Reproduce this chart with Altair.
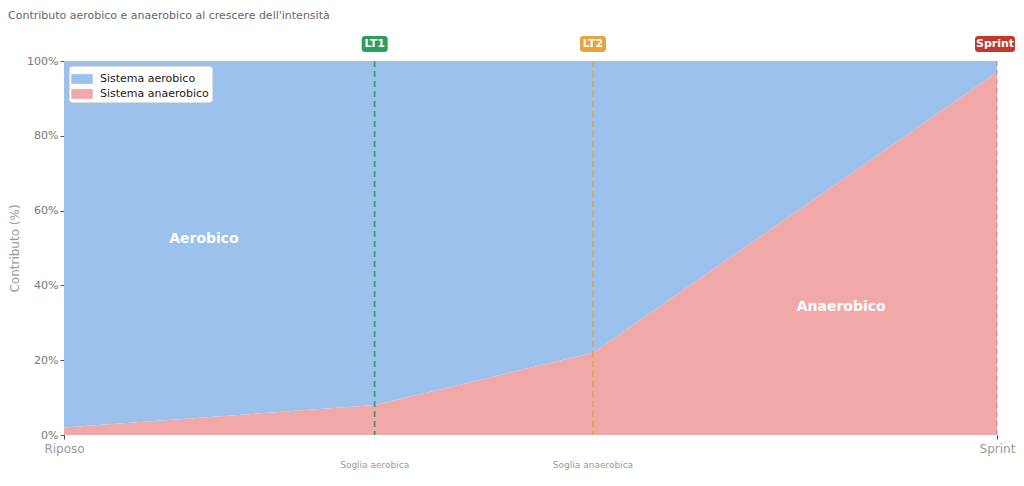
import altair as alt
import pandas as pd

# ---- data ----
intensita = [0, 33.3, 56.7, 100]
anaerobico = [2, 8, 22, 97]
aerobico = [100 - v for v in anaerobico]
sistemi = ["Sistema aerobico", "Sistema anaerobico"]
colori_sistemi = ["#9bc1ec", "#f0a8a8"]

soglie_x = [33.3, 56.7, 100]
soglie_badge = ["LT1", "LT2", "Sprint"]
soglie_nome = ["Soglia aerobica", "Soglia anaerobica", ""]
soglie_colore = ["#2e9e5b", "#e8a33d", "#c0392b"]

etichette_x = ["Riposo", "Sprint"]
etichette_zone = ["Aerobico", "Anaerobico"]
zone_x = [15, 83.3]
zone_y = [52.4, 34.2]

titolo = "Contributo aerobico e anaerobico al crescere dell'intensità"

W, H = 933, 374
FONT = "DejaVu Sans"

rows = []
for i, xv in enumerate(intensita):
    rows.append({"x": xv, "v": anaerobico[i], "sistema": sistemi[1], "ord": 0})
    rows.append({"x": xv, "v": aerobico[i], "sistema": sistemi[0], "ord": 1})
df_area = pd.DataFrame(rows)

x_scale = alt.Scale(domain=[0, 100], nice=False, zero=False)
y_scale = alt.Scale(domain=[0, 100], nice=False)

area = alt.Chart(df_area).mark_area(opacity=1).encode(
    x=alt.X("x:Q", scale=x_scale, axis=alt.Axis(
        values=[0, 100],
        labelExpr=f"datum.value == 0 ? '{etichette_x[0]}' : '{etichette_x[1]}'",
        title=None, grid=False, domain=False, tickColor="#444", tickSize=4,
        labelFlush=False, labelAlign="center",
        labelColor="#999", labelFontSize=12, labelPadding=4, labelFont=FONT)),
    y=alt.Y("v:Q", stack="zero", scale=y_scale, axis=alt.Axis(
        values=[0, 20, 40, 60, 80, 100], labelExpr="datum.value + '%'",
        title="Contributo (%)", titleColor="#999", titleFontSize=12,
        titleFontWeight="normal", titleFont=FONT, titlePadding=5,
        grid=False, domain=False, tickColor="#555", tickSize=4,
        labelColor="#777", labelFontSize=11, labelFont=FONT)),
    color=alt.Color("sistema:N", scale=alt.Scale(domain=sistemi, range=colori_sistemi),
                    legend=alt.Legend(
                        title=None, orient="top-left", offset=5,
                        fillColor="white", strokeColor="#dddddd", cornerRadius=3,
                        padding=3, symbolType="M-1.1,-0.5H1.1V0.5H-1.1Z",
                        symbolSize=380, symbolOpacity=1, symbolStrokeWidth=0,
                        labelFontSize=11, labelColor="#222", labelFont=FONT,
                        rowPadding=-3, labelOffset=8)),
    order=alt.Order("ord:Q"),
)

layers = [area]

for i in range(len(soglie_x)):
    df_s = pd.DataFrame({"x": [soglie_x[i]], "badge": [soglie_badge[i]], "nome": [soglie_nome[i]]})
    last = i == len(soglie_x) - 1
    rule = alt.Chart(df_s).mark_rule(
        strokeDash=[6, 4] if not last else [5, 4],
        strokeWidth=1.8 if not last else 1,
        color=soglie_colore[i] if not last else "#b05555",
        opacity=0.9 if not last else 0.6,
    ).encode(x=alt.X("x:Q", scale=x_scale))
    if not last:
        x0, x1, dx = -13, 13, 0
    else:
        x0, x1, dx = -22, 18, -2
    badge = alt.Chart(df_s).mark_rect(
        color=soglie_colore[i], cornerRadius=3, xOffset=x0, x2Offset=x1
    ).encode(x=alt.X("x:Q", scale=x_scale), x2="x:Q", y=alt.value(-25), y2=alt.value(-9))
    btxt = alt.Chart(df_s).mark_text(
        color="white", fontWeight="bold", fontSize=11, font=FONT, baseline="middle", dx=dx
    ).encode(x=alt.X("x:Q", scale=x_scale), y=alt.value(-17), text="badge:N")
    layers += [rule, badge, btxt]
    if soglie_nome[i]:
        ntxt = alt.Chart(df_s).mark_text(
            color="#999", fontSize=9, font=FONT, baseline="middle"
        ).encode(x=alt.X("x:Q", scale=x_scale), y=alt.value(H + 30), text="nome:N")
        layers.append(ntxt)

df_z = pd.DataFrame({"x": zone_x, "y": zone_y, "t": etichette_zone})
zone = alt.Chart(df_z).mark_text(
    color="white", fontWeight="bold", fontSize=14, font=FONT, baseline="middle"
).encode(x=alt.X("x:Q", scale=x_scale), y=alt.Y("y:Q", scale=y_scale), text="t:N")
layers.append(zone)

df_t = pd.DataFrame({"t": [titolo]})
title = alt.Chart(df_t).mark_text(
    color="#666", fontSize=11, font=FONT, align="left", baseline="alphabetic"
).encode(x=alt.value(-56), y=alt.value(-42), text="t:N")
layers.append(title)

chart = alt.layer(*layers).properties(
    width=W, height=H,
    autosize=alt.AutoSizeParams(type="none"),
    padding={"left": 56, "top": 53, "right": 19, "bottom": 43},
).configure_view(stroke=None)

chart.save("out.html", embed_options={"renderer": "svg", "actions": False})
